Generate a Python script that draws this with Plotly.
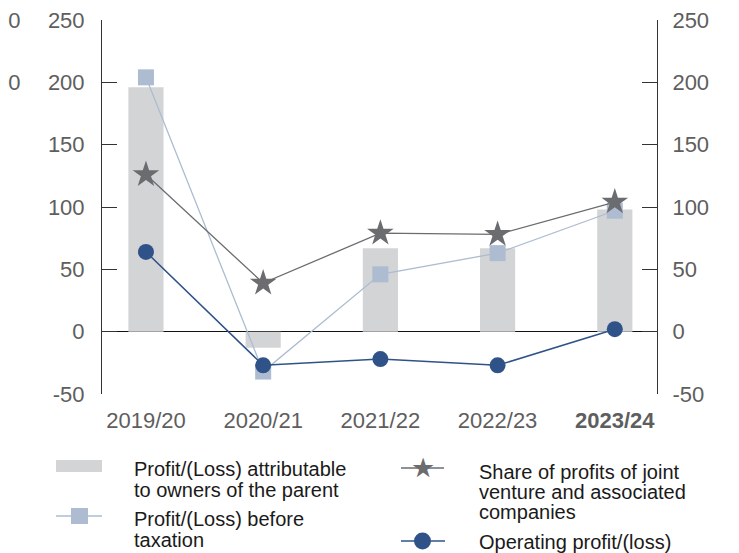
import plotly.graph_objects as go

years = ["2019/20", "2020/21", "2021/22", "2022/23", "2023/24"]
year_labels = ["2019/20", "2020/21", "2021/22", "2022/23", "<b>2023/24</b>"]
attributable = [196, -13, 67, 67, 98]
before_tax = [204, -32, 46, 63, 97]
share_jv = [126, 39, 79, 78, 104]
operating = [64, -27, -22, -27, 2]
y_ticks = [-50, 0, 50, 100, 150, 200, 250]
y_tick_text = ["-50", "0", "50", "100", "150", "200", "250"]

BAR = "#d3d4d6"
SQ = "#adbcd1"
STAR = "#6b6c70"
CIRC = "#2f5389"
FONT = "Liberation Sans"
TICK_FONT = dict(family=FONT, size=22, color="#5e5e5e")

# page body has an 8px margin, so the figure sits at (8, 8) in the window
OFF = 8
W, H = 739 - OFF, 553 - OFF
# plot area in window pixels: x 102..657, y 20..394
L, R, T, B = 102 - OFF, 739 - 657, 20 - OFF, 553 - 394
pw, ph = W - L - R, H - T - B


def px(x):
    return (x - OFF - L) / pw


def py(y):
    return (H - B - (y - OFF)) / ph


fig = go.Figure()
xs = list(range(len(years)))

fig.add_trace(go.Bar(x=xs, y=attributable, width=0.3, marker=dict(color=BAR, line=dict(width=0)),
                     name="Profit/(Loss) attributable to owners of the parent"))
fig.add_trace(go.Scatter(x=xs, y=before_tax, mode="lines+markers",
                         line=dict(color=SQ, width=1.3),
                         marker=dict(symbol="square", size=16, color=SQ),
                         name="Profit/(Loss) before taxation"))
fig.add_trace(go.Scatter(x=xs, y=share_jv, mode="lines+markers",
                         line=dict(color=STAR, width=1.3),
                         marker=dict(symbol="star", size=20, color=STAR),
                         name="Share of profits of joint venture and associated companies"))
fig.add_trace(go.Scatter(x=xs, y=operating, mode="lines+markers",
                         line=dict(color=CIRC, width=1.5),
                         marker=dict(symbol="circle", size=16, color=CIRC),
                         name="Operating profit/(loss)"))
# invisible trace to show the right axis
fig.add_trace(go.Scatter(x=[None], y=[None], yaxis="y2", showlegend=False))

axis_common = dict(range=[-50, 250], tickvals=y_ticks, ticktext=y_tick_text,
                   ticks="inside", ticklen=15, tickcolor="#333", showline=True,
                   linecolor="#333", linewidth=1, showgrid=False, tickfont=TICK_FONT,
                   automargin=False, ticklabeloverflow="allow")

fig.update_layout(
    width=W, height=H,
    margin=dict(l=L, r=R, t=T, b=B, pad=0, autoexpand=False),
    paper_bgcolor="white", plot_bgcolor="white",
    showlegend=False,
    xaxis=dict(range=[-0.375, 4.36], tickvals=xs, ticktext=year_labels, showline=False,
               showgrid=False, zeroline=False, ticks="", ticklabelstandoff=11,
               tickfont=TICK_FONT, automargin=False),
    yaxis=dict(**axis_common, zeroline=True, zerolinecolor="#111", zerolinewidth=1,
               ticklabelstandoff=12),
    yaxis2=dict(**axis_common, overlaying="y", side="right", zeroline=False,
                ticklabelstandoff=10),
)

# labels of a neighbouring axis, cut off at the left edge
for yv in [250, 200]:
    fig.add_annotation(text="00", xref="paper", yref="y", x=px(22), y=yv, xanchor="right",
                       showarrow=False, font=TICK_FONT)

# custom legend
shapes = [
    dict(type="rect", x0=px(56), x1=px(102), y0=py(472), y1=py(460),
         fillcolor=BAR, line=dict(width=0)),
    dict(type="line", x0=px(56), x1=px(102), y0=py(516), y1=py(516),
         line=dict(color=SQ, width=1.3)),
    dict(type="rect", x0=px(71), x1=px(88), y0=py(524), y1=py(508),
         fillcolor=SQ, line=dict(width=0)),
    dict(type="line", x0=px(401), x1=px(444), y0=py(468), y1=py(468),
         line=dict(color=STAR, width=1.3)),
    dict(type="line", x0=px(401), x1=px(445), y0=py(541), y1=py(541),
         line=dict(color=CIRC, width=1.5)),
    dict(type="circle", x0=px(414), x1=px(431), y0=py(549.5), y1=py(532.5),
         fillcolor=CIRC, line=dict(width=0)),
]
for s in shapes:
    s.update(xref="paper", yref="paper")
fig.update_layout(shapes=shapes)
fig.add_annotation(text="★", xref="paper", yref="paper", x=px(423), y=py(468),
                   xanchor="center", yanchor="middle", showarrow=False,
                   font=dict(family="DejaVu Sans", size=27, color=STAR))

leg_font = dict(family=FONT, size=20, color="#1a1a1a")
# one annotation per legend line: (text, left x, line centre y) in window pixels
legend_lines = [
    ("Profit/(Loss) attributable", 132, 469),
    ("to owners of the parent", 132, 490),
    ("Profit/(Loss) before", 132, 519),
    ("taxation", 132, 540),
    ("Share of profits of joint", 477, 472),
    ("venture and associated", 477, 492),
    ("companies", 477, 512),
    ("Operating profit/(loss)", 477, 542),
]
for txt, x, y in legend_lines:
    fig.add_annotation(text=txt, xref="paper", yref="paper", x=px(x), y=py(y),
                       xanchor="left", yanchor="middle", align="left", showarrow=False,
                       font=leg_font)

fig.write_html("out.html")
